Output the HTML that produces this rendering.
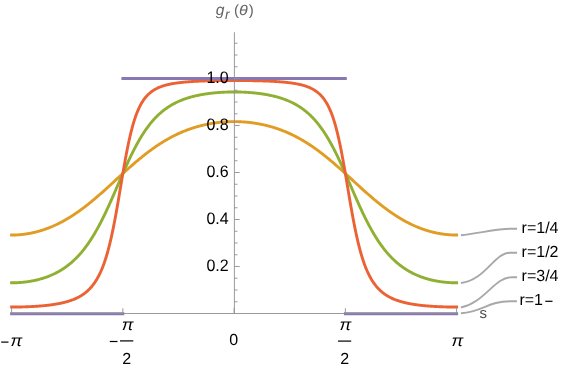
<!DOCTYPE html>
<html><head><meta charset="utf-8"><title>plot</title><style>html,body{margin:0;padding:0;background:#fff}body{width:581px;height:367px;overflow:hidden;position:relative;font-family:"Liberation Sans",sans-serif}</style></head><body>
<svg width="581" height="367" viewBox="0 0 581 367" style="position:absolute;left:0;top:0;will-change:transform">
<rect width="581" height="367" fill="#fff"/>
<path d="M11.60,235.04 L12.16,235.04 L12.71,235.04 L13.27,235.03 L13.82,235.02 L14.38,235.00 L14.94,234.98 L15.49,234.96 L16.05,234.94 L16.61,234.91 L17.16,234.88 L17.72,234.85 L18.28,234.81 L18.83,234.77 L19.39,234.73 L19.94,234.69 L20.50,234.64 L21.06,234.58 L21.61,234.53 L22.17,234.47 L22.73,234.41 L23.28,234.34 L23.84,234.28 L24.39,234.20 L24.95,234.13 L25.51,234.05 L26.06,233.97 L26.62,233.89 L27.18,233.80 L27.73,233.71 L28.29,233.62 L28.84,233.52 L29.40,233.42 L29.96,233.31 L30.51,233.21 L31.07,233.10 L31.63,232.98 L32.18,232.87 L32.74,232.75 L33.29,232.63 L33.85,232.50 L34.41,232.37 L34.96,232.24 L35.52,232.10 L36.07,231.96 L36.63,231.82 L37.19,231.67 L37.74,231.53 L38.30,231.37 L38.86,231.22 L39.41,231.06 L39.97,230.90 L40.53,230.73 L41.08,230.56 L41.64,230.39 L42.19,230.21 L42.75,230.04 L43.31,229.85 L43.86,229.67 L44.42,229.48 L44.98,229.29 L45.53,229.09 L46.09,228.89 L46.64,228.69 L47.20,228.49 L47.76,228.28 L48.31,228.06 L48.87,227.85 L49.43,227.63 L49.98,227.41 L50.54,227.18 L51.09,226.95 L51.65,226.72 L52.21,226.48 L52.76,226.25 L53.32,226.00 L53.88,225.76 L54.43,225.51 L54.99,225.25 L55.54,225.00 L56.10,224.74 L56.66,224.48 L57.21,224.21 L57.77,223.94 L58.32,223.67 L58.88,223.39 L59.44,223.11 L59.99,222.83 L60.55,222.54 L61.11,222.25 L61.66,221.96 L62.22,221.66 L62.78,221.36 L63.33,221.06 L63.89,220.75 L64.44,220.44 L65.00,220.13 L65.56,219.81 L66.11,219.49 L66.67,219.16 L67.23,218.84 L67.78,218.51 L68.34,218.17 L68.89,217.84 L69.45,217.50 L70.01,217.15 L70.56,216.81 L71.12,216.46 L71.68,216.10 L72.23,215.75 L72.79,215.39 L73.34,215.02 L73.90,214.66 L74.46,214.29 L75.01,213.92 L75.57,213.54 L76.13,213.16 L76.68,212.78 L77.24,212.39 L77.79,212.01 L78.35,211.61 L78.91,211.22 L79.46,210.82 L80.02,210.42 L80.57,210.02 L81.13,209.61 L81.69,209.20 L82.24,208.79 L82.80,208.38 L83.36,207.96 L83.91,207.54 L84.47,207.12 L85.03,206.69 L85.58,206.26 L86.14,205.83 L86.69,205.40 L87.25,204.96 L87.81,204.52 L88.36,204.08 L88.92,203.63 L89.48,203.19 L90.03,202.74 L90.59,202.28 L91.14,201.83 L91.70,201.37 L92.26,200.91 L92.81,200.45 L93.37,199.99 L93.93,199.52 L94.48,199.05 L95.04,198.58 L95.59,198.11 L96.15,197.64 L96.71,197.16 L97.26,196.68 L97.82,196.20 L98.38,195.72 L98.93,195.24 L99.49,194.75 L100.04,194.27 L100.60,193.78 L101.16,193.29 L101.71,192.80 L102.27,192.30 L102.83,191.81 L103.38,191.31 L103.94,190.82 L104.49,190.32 L105.05,189.82 L105.61,189.32 L106.16,188.81 L106.72,188.31 L107.28,187.81 L107.83,187.30 L108.39,186.80 L108.94,186.29 L109.50,185.78 L110.06,185.27 L110.61,184.77 L111.17,184.26 L111.73,183.75 L112.28,183.24 L112.84,182.73 L113.39,182.21 L113.95,181.70 L114.51,181.19 L115.06,180.68 L115.62,180.17 L116.18,179.66 L116.73,179.15 L117.29,178.63 L117.84,178.12 L118.40,177.61 L118.96,177.10 L119.51,176.59 L120.07,176.08 L120.63,175.57 L121.18,175.06 L121.74,174.55 L122.29,174.04 L122.85,173.54 L123.41,173.03 L123.96,172.53 L124.52,172.02 L125.08,171.52 L125.63,171.01 L126.19,170.51 L126.74,170.01 L127.30,169.51 L127.86,169.01 L128.41,168.52 L128.97,168.02 L129.53,167.53 L130.08,167.03 L130.64,166.54 L131.19,166.05 L131.75,165.56 L132.31,165.08 L132.86,164.59 L133.42,164.11 L133.98,163.63 L134.53,163.15 L135.09,162.67 L135.64,162.20 L136.20,161.72 L136.76,161.25 L137.31,160.78 L137.87,160.31 L138.43,159.85 L138.98,159.38 L139.54,158.92 L140.09,158.46 L140.65,158.01 L141.21,157.55 L141.76,157.10 L142.32,156.65 L142.88,156.20 L143.43,155.76 L143.99,155.32 L144.54,154.88 L145.10,154.44 L145.66,154.01 L146.21,153.58 L146.77,153.15 L147.33,152.72 L147.88,152.30 L148.44,151.88 L148.99,151.46 L149.55,151.04 L150.11,150.63 L150.66,150.22 L151.22,149.82 L151.78,149.41 L152.33,149.01 L152.89,148.61 L153.44,148.22 L154.00,147.83 L154.56,147.44 L155.11,147.05 L155.67,146.67 L156.23,146.29 L156.78,145.91 L157.34,145.54 L157.89,145.17 L158.45,144.80 L159.01,144.43 L159.56,144.07 L160.12,143.71 L160.68,143.36 L161.23,143.00 L161.79,142.65 L162.34,142.31 L162.90,141.97 L163.46,141.63 L164.01,141.29 L164.57,140.95 L165.13,140.62 L165.68,140.30 L166.24,139.97 L166.79,139.65 L167.35,139.33 L167.91,139.02 L168.46,138.71 L169.02,138.40 L169.58,138.09 L170.13,137.79 L170.69,137.49 L171.24,137.19 L171.80,136.90 L172.36,136.61 L172.91,136.32 L173.47,136.04 L174.03,135.76 L174.58,135.48 L175.14,135.21 L175.69,134.94 L176.25,134.67 L176.81,134.40 L177.36,134.14 L177.92,133.88 L178.48,133.62 L179.03,133.37 L179.59,133.12 L180.14,132.87 L180.70,132.63 L181.26,132.39 L181.81,132.15 L182.37,131.92 L182.93,131.68 L183.48,131.45 L184.04,131.23 L184.59,131.00 L185.15,130.78 L185.71,130.57 L186.26,130.35 L186.82,130.14 L187.38,129.93 L187.93,129.73 L188.49,129.52 L189.04,129.32 L189.60,129.12 L190.16,128.93 L190.71,128.74 L191.27,128.55 L191.83,128.36 L192.38,128.18 L192.94,128.00 L193.49,127.82 L194.05,127.65 L194.61,127.47 L195.16,127.30 L195.72,127.14 L196.28,126.97 L196.83,126.81 L197.39,126.65 L197.94,126.50 L198.50,126.34 L199.06,126.19 L199.61,126.04 L200.17,125.90 L200.73,125.75 L201.28,125.61 L201.84,125.48 L202.39,125.34 L202.95,125.21 L203.51,125.08 L204.06,124.95 L204.62,124.82 L205.18,124.70 L205.73,124.58 L206.29,124.46 L206.84,124.35 L207.40,124.24 L207.96,124.13 L208.51,124.02 L209.07,123.91 L209.63,123.81 L210.18,123.71 L210.74,123.61 L211.29,123.52 L211.85,123.42 L212.41,123.33 L212.96,123.24 L213.52,123.16 L214.08,123.07 L214.63,122.99 L215.19,122.91 L215.74,122.84 L216.30,122.76 L216.86,122.69 L217.41,122.62 L217.97,122.56 L218.53,122.49 L219.08,122.43 L219.64,122.37 L220.19,122.31 L220.75,122.26 L221.31,122.20 L221.86,122.15 L222.42,122.10 L222.98,122.06 L223.53,122.01 L224.09,121.97 L224.64,121.93 L225.20,121.90 L225.76,121.86 L226.31,121.83 L226.87,121.80 L227.43,121.77 L227.98,121.74 L228.54,121.72 L229.09,121.70 L229.65,121.68 L230.21,121.66 L230.76,121.65 L231.32,121.64 L231.88,121.63 L232.43,121.62 L232.99,121.61 L233.54,121.61 L234.10,121.61 L234.66,121.61 L235.21,121.61 L235.77,121.62 L236.33,121.63 L236.88,121.64 L237.44,121.65 L237.99,121.66 L238.55,121.68 L239.11,121.70 L239.66,121.72 L240.22,121.74 L240.78,121.77 L241.33,121.80 L241.89,121.83 L242.44,121.86 L243.00,121.90 L243.56,121.93 L244.11,121.97 L244.67,122.01 L245.23,122.06 L245.78,122.10 L246.34,122.15 L246.89,122.20 L247.45,122.26 L248.01,122.31 L248.56,122.37 L249.12,122.43 L249.68,122.49 L250.23,122.56 L250.79,122.62 L251.34,122.69 L251.90,122.76 L252.46,122.84 L253.01,122.91 L253.57,122.99 L254.13,123.07 L254.68,123.16 L255.24,123.24 L255.79,123.33 L256.35,123.42 L256.91,123.52 L257.46,123.61 L258.02,123.71 L258.58,123.81 L259.13,123.91 L259.69,124.02 L260.24,124.13 L260.80,124.24 L261.36,124.35 L261.91,124.46 L262.47,124.58 L263.03,124.70 L263.58,124.82 L264.14,124.95 L264.69,125.08 L265.25,125.21 L265.81,125.34 L266.36,125.48 L266.92,125.61 L267.48,125.75 L268.03,125.90 L268.59,126.04 L269.14,126.19 L269.70,126.34 L270.26,126.50 L270.81,126.65 L271.37,126.81 L271.93,126.97 L272.48,127.14 L273.04,127.30 L273.59,127.47 L274.15,127.65 L274.71,127.82 L275.26,128.00 L275.82,128.18 L276.38,128.36 L276.93,128.55 L277.49,128.74 L278.04,128.93 L278.60,129.12 L279.16,129.32 L279.71,129.52 L280.27,129.73 L280.83,129.93 L281.38,130.14 L281.94,130.35 L282.49,130.57 L283.05,130.78 L283.61,131.00 L284.16,131.23 L284.72,131.45 L285.28,131.68 L285.83,131.92 L286.39,132.15 L286.94,132.39 L287.50,132.63 L288.06,132.87 L288.61,133.12 L289.17,133.37 L289.73,133.62 L290.28,133.88 L290.84,134.14 L291.39,134.40 L291.95,134.67 L292.51,134.94 L293.06,135.21 L293.62,135.48 L294.18,135.76 L294.73,136.04 L295.29,136.32 L295.84,136.61 L296.40,136.90 L296.96,137.19 L297.51,137.49 L298.07,137.79 L298.63,138.09 L299.18,138.40 L299.74,138.71 L300.29,139.02 L300.85,139.33 L301.41,139.65 L301.96,139.97 L302.52,140.30 L303.08,140.62 L303.63,140.95 L304.19,141.29 L304.74,141.63 L305.30,141.97 L305.86,142.31 L306.41,142.65 L306.97,143.00 L307.53,143.36 L308.08,143.71 L308.64,144.07 L309.19,144.43 L309.75,144.80 L310.31,145.17 L310.86,145.54 L311.42,145.91 L311.98,146.29 L312.53,146.67 L313.09,147.05 L313.64,147.44 L314.20,147.83 L314.76,148.22 L315.31,148.61 L315.87,149.01 L316.43,149.41 L316.98,149.82 L317.54,150.22 L318.09,150.63 L318.65,151.04 L319.21,151.46 L319.76,151.88 L320.32,152.30 L320.88,152.72 L321.43,153.15 L321.99,153.58 L322.54,154.01 L323.10,154.44 L323.66,154.88 L324.21,155.32 L324.77,155.76 L325.33,156.20 L325.88,156.65 L326.44,157.10 L326.99,157.55 L327.55,158.01 L328.11,158.46 L328.66,158.92 L329.22,159.38 L329.78,159.85 L330.33,160.31 L330.89,160.78 L331.44,161.25 L332.00,161.72 L332.56,162.20 L333.11,162.67 L333.67,163.15 L334.23,163.63 L334.78,164.11 L335.34,164.59 L335.89,165.08 L336.45,165.56 L337.01,166.05 L337.56,166.54 L338.12,167.03 L338.68,167.53 L339.23,168.02 L339.79,168.52 L340.34,169.01 L340.90,169.51 L341.46,170.01 L342.01,170.51 L342.57,171.01 L343.13,171.52 L343.68,172.02 L344.24,172.53 L344.79,173.03 L345.35,173.54 L345.91,174.04 L346.46,174.55 L347.02,175.06 L347.58,175.57 L348.13,176.08 L348.69,176.59 L349.24,177.10 L349.80,177.61 L350.36,178.12 L350.91,178.63 L351.47,179.15 L352.03,179.66 L352.58,180.17 L353.14,180.68 L353.69,181.19 L354.25,181.70 L354.81,182.21 L355.36,182.73 L355.92,183.24 L356.48,183.75 L357.03,184.26 L357.59,184.77 L358.14,185.27 L358.70,185.78 L359.26,186.29 L359.81,186.80 L360.37,187.30 L360.93,187.81 L361.48,188.31 L362.04,188.81 L362.59,189.32 L363.15,189.82 L363.71,190.32 L364.26,190.82 L364.82,191.31 L365.38,191.81 L365.93,192.30 L366.49,192.80 L367.04,193.29 L367.60,193.78 L368.16,194.27 L368.71,194.75 L369.27,195.24 L369.83,195.72 L370.38,196.20 L370.94,196.68 L371.49,197.16 L372.05,197.64 L372.61,198.11 L373.16,198.58 L373.72,199.05 L374.28,199.52 L374.83,199.99 L375.39,200.45 L375.94,200.91 L376.50,201.37 L377.06,201.83 L377.61,202.28 L378.17,202.74 L378.73,203.19 L379.28,203.63 L379.84,204.08 L380.39,204.52 L380.95,204.96 L381.51,205.40 L382.06,205.83 L382.62,206.26 L383.18,206.69 L383.73,207.12 L384.29,207.54 L384.84,207.96 L385.40,208.38 L385.96,208.79 L386.51,209.20 L387.07,209.61 L387.63,210.02 L388.18,210.42 L388.74,210.82 L389.29,211.22 L389.85,211.61 L390.41,212.01 L390.96,212.39 L391.52,212.78 L392.08,213.16 L392.63,213.54 L393.19,213.92 L393.74,214.29 L394.30,214.66 L394.86,215.02 L395.41,215.39 L395.97,215.75 L396.53,216.10 L397.08,216.46 L397.64,216.81 L398.19,217.15 L398.75,217.50 L399.31,217.84 L399.86,218.17 L400.42,218.51 L400.98,218.84 L401.53,219.16 L402.09,219.49 L402.64,219.81 L403.20,220.13 L403.76,220.44 L404.31,220.75 L404.87,221.06 L405.43,221.36 L405.98,221.66 L406.54,221.96 L407.09,222.25 L407.65,222.54 L408.21,222.83 L408.76,223.11 L409.32,223.39 L409.88,223.67 L410.43,223.94 L410.99,224.21 L411.54,224.48 L412.10,224.74 L412.66,225.00 L413.21,225.25 L413.77,225.51 L414.33,225.76 L414.88,226.00 L415.44,226.25 L415.99,226.48 L416.55,226.72 L417.11,226.95 L417.66,227.18 L418.22,227.41 L418.78,227.63 L419.33,227.85 L419.89,228.06 L420.44,228.28 L421.00,228.49 L421.56,228.69 L422.11,228.89 L422.67,229.09 L423.23,229.29 L423.78,229.48 L424.34,229.67 L424.89,229.85 L425.45,230.04 L426.01,230.21 L426.56,230.39 L427.12,230.56 L427.68,230.73 L428.23,230.90 L428.79,231.06 L429.34,231.22 L429.90,231.37 L430.46,231.53 L431.01,231.67 L431.57,231.82 L432.13,231.96 L432.68,232.10 L433.24,232.24 L433.79,232.37 L434.35,232.50 L434.91,232.63 L435.46,232.75 L436.02,232.87 L436.58,232.98 L437.13,233.10 L437.69,233.21 L438.24,233.31 L438.80,233.42 L439.36,233.52 L439.91,233.62 L440.47,233.71 L441.03,233.80 L441.58,233.89 L442.14,233.97 L442.69,234.05 L443.25,234.13 L443.81,234.20 L444.36,234.28 L444.92,234.34 L445.48,234.41 L446.03,234.47 L446.59,234.53 L447.14,234.58 L447.70,234.64 L448.26,234.69 L448.81,234.73 L449.37,234.77 L449.93,234.81 L450.48,234.85 L451.04,234.88 L451.59,234.91 L452.15,234.94 L452.71,234.96 L453.26,234.98 L453.82,235.00 L454.38,235.02 L454.93,235.03 L455.49,235.04 L456.04,235.04 L456.60,235.04" fill="none" stroke="#E19C24" stroke-width="2.9" stroke-linecap="square" stroke-linejoin="round"/>
<path d="M11.60,282.82 L12.16,282.82 L12.71,282.81 L13.27,282.81 L13.82,282.80 L14.38,282.78 L14.94,282.77 L15.49,282.75 L16.05,282.73 L16.61,282.71 L17.16,282.68 L17.72,282.66 L18.28,282.63 L18.83,282.59 L19.39,282.56 L19.94,282.52 L20.50,282.48 L21.06,282.43 L21.61,282.38 L22.17,282.33 L22.73,282.28 L23.28,282.23 L23.84,282.17 L24.39,282.11 L24.95,282.04 L25.51,281.97 L26.06,281.90 L26.62,281.83 L27.18,281.76 L27.73,281.68 L28.29,281.60 L28.84,281.51 L29.40,281.42 L29.96,281.33 L30.51,281.24 L31.07,281.14 L31.63,281.04 L32.18,280.94 L32.74,280.83 L33.29,280.72 L33.85,280.61 L34.41,280.49 L34.96,280.37 L35.52,280.25 L36.07,280.12 L36.63,279.99 L37.19,279.86 L37.74,279.72 L38.30,279.58 L38.86,279.44 L39.41,279.29 L39.97,279.14 L40.53,278.98 L41.08,278.83 L41.64,278.66 L42.19,278.50 L42.75,278.33 L43.31,278.15 L43.86,277.97 L44.42,277.79 L44.98,277.60 L45.53,277.41 L46.09,277.22 L46.64,277.02 L47.20,276.81 L47.76,276.61 L48.31,276.39 L48.87,276.18 L49.43,275.95 L49.98,275.73 L50.54,275.49 L51.09,275.26 L51.65,275.02 L52.21,274.77 L52.76,274.52 L53.32,274.26 L53.88,274.00 L54.43,273.73 L54.99,273.46 L55.54,273.18 L56.10,272.90 L56.66,272.61 L57.21,272.32 L57.77,272.02 L58.32,271.71 L58.88,271.40 L59.44,271.08 L59.99,270.75 L60.55,270.42 L61.11,270.09 L61.66,269.74 L62.22,269.39 L62.78,269.03 L63.33,268.67 L63.89,268.30 L64.44,267.92 L65.00,267.54 L65.56,267.14 L66.11,266.75 L66.67,266.34 L67.23,265.92 L67.78,265.50 L68.34,265.07 L68.89,264.63 L69.45,264.19 L70.01,263.73 L70.56,263.27 L71.12,262.80 L71.68,262.32 L72.23,261.83 L72.79,261.33 L73.34,260.83 L73.90,260.31 L74.46,259.79 L75.01,259.26 L75.57,258.71 L76.13,258.16 L76.68,257.60 L77.24,257.03 L77.79,256.44 L78.35,255.85 L78.91,255.25 L79.46,254.63 L80.02,254.01 L80.57,253.38 L81.13,252.73 L81.69,252.08 L82.24,251.41 L82.80,250.73 L83.36,250.04 L83.91,249.34 L84.47,248.63 L85.03,247.90 L85.58,247.17 L86.14,246.42 L86.69,245.66 L87.25,244.89 L87.81,244.11 L88.36,243.31 L88.92,242.51 L89.48,241.69 L90.03,240.85 L90.59,240.01 L91.14,239.15 L91.70,238.28 L92.26,237.40 L92.81,236.50 L93.37,235.60 L93.93,234.68 L94.48,233.74 L95.04,232.80 L95.59,231.84 L96.15,230.87 L96.71,229.88 L97.26,228.89 L97.82,227.88 L98.38,226.86 L98.93,225.83 L99.49,224.78 L100.04,223.73 L100.60,222.66 L101.16,221.58 L101.71,220.48 L102.27,219.38 L102.83,218.27 L103.38,217.14 L103.94,216.00 L104.49,214.86 L105.05,213.70 L105.61,212.53 L106.16,211.36 L106.72,210.17 L107.28,208.98 L107.83,207.77 L108.39,206.56 L108.94,205.34 L109.50,204.11 L110.06,202.87 L110.61,201.63 L111.17,200.38 L111.73,199.13 L112.28,197.87 L112.84,196.60 L113.39,195.33 L113.95,194.06 L114.51,192.78 L115.06,191.50 L115.62,190.22 L116.18,188.93 L116.73,187.65 L117.29,186.36 L117.84,185.07 L118.40,183.78 L118.96,182.49 L119.51,181.21 L120.07,179.92 L120.63,178.64 L121.18,177.36 L121.74,176.08 L122.29,174.81 L122.85,173.54 L123.41,172.27 L123.96,171.01 L124.52,169.76 L125.08,168.51 L125.63,167.27 L126.19,166.04 L126.74,164.81 L127.30,163.59 L127.86,162.39 L128.41,161.18 L128.97,159.99 L129.53,158.81 L130.08,157.64 L130.64,156.48 L131.19,155.33 L131.75,154.19 L132.31,153.06 L132.86,151.95 L133.42,150.84 L133.98,149.75 L134.53,148.67 L135.09,147.60 L135.64,146.55 L136.20,145.51 L136.76,144.48 L137.31,143.47 L137.87,142.46 L138.43,141.48 L138.98,140.50 L139.54,139.54 L140.09,138.59 L140.65,137.66 L141.21,136.74 L141.76,135.84 L142.32,134.95 L142.88,134.07 L143.43,133.20 L143.99,132.35 L144.54,131.52 L145.10,130.70 L145.66,129.89 L146.21,129.09 L146.77,128.31 L147.33,127.54 L147.88,126.79 L148.44,126.05 L148.99,125.32 L149.55,124.60 L150.11,123.90 L150.66,123.21 L151.22,122.53 L151.78,121.87 L152.33,121.21 L152.89,120.57 L153.44,119.95 L154.00,119.33 L154.56,118.73 L155.11,118.13 L155.67,117.55 L156.23,116.98 L156.78,116.42 L157.34,115.87 L157.89,115.33 L158.45,114.81 L159.01,114.29 L159.56,113.78 L160.12,113.29 L160.68,112.80 L161.23,112.32 L161.79,111.85 L162.34,111.40 L162.90,110.95 L163.46,110.51 L164.01,110.07 L164.57,109.65 L165.13,109.24 L165.68,108.83 L166.24,108.44 L166.79,108.05 L167.35,107.66 L167.91,107.29 L168.46,106.93 L169.02,106.57 L169.58,106.22 L170.13,105.87 L170.69,105.53 L171.24,105.20 L171.80,104.88 L172.36,104.57 L172.91,104.25 L173.47,103.95 L174.03,103.65 L174.58,103.36 L175.14,103.08 L175.69,102.80 L176.25,102.52 L176.81,102.26 L177.36,101.99 L177.92,101.74 L178.48,101.49 L179.03,101.24 L179.59,101.00 L180.14,100.76 L180.70,100.53 L181.26,100.30 L181.81,100.08 L182.37,99.86 L182.93,99.65 L183.48,99.44 L184.04,99.24 L184.59,99.04 L185.15,98.84 L185.71,98.65 L186.26,98.47 L186.82,98.28 L187.38,98.10 L187.93,97.93 L188.49,97.75 L189.04,97.59 L189.60,97.42 L190.16,97.26 L190.71,97.10 L191.27,96.95 L191.83,96.80 L192.38,96.65 L192.94,96.50 L193.49,96.36 L194.05,96.22 L194.61,96.09 L195.16,95.96 L195.72,95.83 L196.28,95.70 L196.83,95.58 L197.39,95.46 L197.94,95.34 L198.50,95.22 L199.06,95.11 L199.61,95.00 L200.17,94.89 L200.73,94.78 L201.28,94.68 L201.84,94.58 L202.39,94.48 L202.95,94.39 L203.51,94.29 L204.06,94.20 L204.62,94.11 L205.18,94.03 L205.73,93.94 L206.29,93.86 L206.84,93.78 L207.40,93.70 L207.96,93.62 L208.51,93.55 L209.07,93.48 L209.63,93.41 L210.18,93.34 L210.74,93.27 L211.29,93.21 L211.85,93.14 L212.41,93.08 L212.96,93.02 L213.52,92.96 L214.08,92.91 L214.63,92.85 L215.19,92.80 L215.74,92.75 L216.30,92.70 L216.86,92.66 L217.41,92.61 L217.97,92.57 L218.53,92.52 L219.08,92.48 L219.64,92.45 L220.19,92.41 L220.75,92.37 L221.31,92.34 L221.86,92.30 L222.42,92.27 L222.98,92.24 L223.53,92.22 L224.09,92.19 L224.64,92.16 L225.20,92.14 L225.76,92.12 L226.31,92.10 L226.87,92.08 L227.43,92.06 L227.98,92.04 L228.54,92.03 L229.09,92.02 L229.65,92.00 L230.21,91.99 L230.76,91.98 L231.32,91.98 L231.88,91.97 L232.43,91.96 L232.99,91.96 L233.54,91.96 L234.10,91.96 L234.66,91.96 L235.21,91.96 L235.77,91.96 L236.33,91.97 L236.88,91.98 L237.44,91.98 L237.99,91.99 L238.55,92.00 L239.11,92.02 L239.66,92.03 L240.22,92.04 L240.78,92.06 L241.33,92.08 L241.89,92.10 L242.44,92.12 L243.00,92.14 L243.56,92.16 L244.11,92.19 L244.67,92.22 L245.23,92.24 L245.78,92.27 L246.34,92.30 L246.89,92.34 L247.45,92.37 L248.01,92.41 L248.56,92.45 L249.12,92.48 L249.68,92.52 L250.23,92.57 L250.79,92.61 L251.34,92.66 L251.90,92.70 L252.46,92.75 L253.01,92.80 L253.57,92.85 L254.13,92.91 L254.68,92.96 L255.24,93.02 L255.79,93.08 L256.35,93.14 L256.91,93.21 L257.46,93.27 L258.02,93.34 L258.58,93.41 L259.13,93.48 L259.69,93.55 L260.24,93.62 L260.80,93.70 L261.36,93.78 L261.91,93.86 L262.47,93.94 L263.03,94.03 L263.58,94.11 L264.14,94.20 L264.69,94.29 L265.25,94.39 L265.81,94.48 L266.36,94.58 L266.92,94.68 L267.48,94.78 L268.03,94.89 L268.59,95.00 L269.14,95.11 L269.70,95.22 L270.26,95.34 L270.81,95.46 L271.37,95.58 L271.93,95.70 L272.48,95.83 L273.04,95.96 L273.59,96.09 L274.15,96.22 L274.71,96.36 L275.26,96.50 L275.82,96.65 L276.38,96.80 L276.93,96.95 L277.49,97.10 L278.04,97.26 L278.60,97.42 L279.16,97.59 L279.71,97.75 L280.27,97.93 L280.83,98.10 L281.38,98.28 L281.94,98.47 L282.49,98.65 L283.05,98.84 L283.61,99.04 L284.16,99.24 L284.72,99.44 L285.28,99.65 L285.83,99.86 L286.39,100.08 L286.94,100.30 L287.50,100.53 L288.06,100.76 L288.61,101.00 L289.17,101.24 L289.73,101.49 L290.28,101.74 L290.84,101.99 L291.39,102.26 L291.95,102.52 L292.51,102.80 L293.06,103.08 L293.62,103.36 L294.18,103.65 L294.73,103.95 L295.29,104.25 L295.84,104.57 L296.40,104.88 L296.96,105.20 L297.51,105.53 L298.07,105.87 L298.63,106.22 L299.18,106.57 L299.74,106.93 L300.29,107.29 L300.85,107.66 L301.41,108.05 L301.96,108.44 L302.52,108.83 L303.08,109.24 L303.63,109.65 L304.19,110.07 L304.74,110.51 L305.30,110.95 L305.86,111.40 L306.41,111.85 L306.97,112.32 L307.53,112.80 L308.08,113.29 L308.64,113.78 L309.19,114.29 L309.75,114.81 L310.31,115.33 L310.86,115.87 L311.42,116.42 L311.98,116.98 L312.53,117.55 L313.09,118.13 L313.64,118.73 L314.20,119.33 L314.76,119.95 L315.31,120.57 L315.87,121.21 L316.43,121.87 L316.98,122.53 L317.54,123.21 L318.09,123.90 L318.65,124.60 L319.21,125.32 L319.76,126.05 L320.32,126.79 L320.88,127.54 L321.43,128.31 L321.99,129.09 L322.54,129.89 L323.10,130.70 L323.66,131.52 L324.21,132.35 L324.77,133.20 L325.33,134.07 L325.88,134.95 L326.44,135.84 L326.99,136.74 L327.55,137.66 L328.11,138.59 L328.66,139.54 L329.22,140.50 L329.78,141.48 L330.33,142.46 L330.89,143.47 L331.44,144.48 L332.00,145.51 L332.56,146.55 L333.11,147.60 L333.67,148.67 L334.23,149.75 L334.78,150.84 L335.34,151.95 L335.89,153.06 L336.45,154.19 L337.01,155.33 L337.56,156.48 L338.12,157.64 L338.68,158.81 L339.23,159.99 L339.79,161.18 L340.34,162.39 L340.90,163.59 L341.46,164.81 L342.01,166.04 L342.57,167.27 L343.13,168.51 L343.68,169.76 L344.24,171.01 L344.79,172.27 L345.35,173.54 L345.91,174.81 L346.46,176.08 L347.02,177.36 L347.58,178.64 L348.13,179.92 L348.69,181.21 L349.24,182.49 L349.80,183.78 L350.36,185.07 L350.91,186.36 L351.47,187.65 L352.03,188.93 L352.58,190.22 L353.14,191.50 L353.69,192.78 L354.25,194.06 L354.81,195.33 L355.36,196.60 L355.92,197.87 L356.48,199.13 L357.03,200.38 L357.59,201.63 L358.14,202.87 L358.70,204.11 L359.26,205.34 L359.81,206.56 L360.37,207.77 L360.93,208.98 L361.48,210.17 L362.04,211.36 L362.59,212.53 L363.15,213.70 L363.71,214.86 L364.26,216.00 L364.82,217.14 L365.38,218.27 L365.93,219.38 L366.49,220.48 L367.04,221.58 L367.60,222.66 L368.16,223.73 L368.71,224.78 L369.27,225.83 L369.83,226.86 L370.38,227.88 L370.94,228.89 L371.49,229.88 L372.05,230.87 L372.61,231.84 L373.16,232.80 L373.72,233.74 L374.28,234.68 L374.83,235.60 L375.39,236.50 L375.94,237.40 L376.50,238.28 L377.06,239.15 L377.61,240.01 L378.17,240.85 L378.73,241.69 L379.28,242.51 L379.84,243.31 L380.39,244.11 L380.95,244.89 L381.51,245.66 L382.06,246.42 L382.62,247.17 L383.18,247.90 L383.73,248.63 L384.29,249.34 L384.84,250.04 L385.40,250.73 L385.96,251.41 L386.51,252.08 L387.07,252.73 L387.63,253.38 L388.18,254.01 L388.74,254.63 L389.29,255.25 L389.85,255.85 L390.41,256.44 L390.96,257.03 L391.52,257.60 L392.08,258.16 L392.63,258.71 L393.19,259.26 L393.74,259.79 L394.30,260.31 L394.86,260.83 L395.41,261.33 L395.97,261.83 L396.53,262.32 L397.08,262.80 L397.64,263.27 L398.19,263.73 L398.75,264.19 L399.31,264.63 L399.86,265.07 L400.42,265.50 L400.98,265.92 L401.53,266.34 L402.09,266.75 L402.64,267.14 L403.20,267.54 L403.76,267.92 L404.31,268.30 L404.87,268.67 L405.43,269.03 L405.98,269.39 L406.54,269.74 L407.09,270.09 L407.65,270.42 L408.21,270.75 L408.76,271.08 L409.32,271.40 L409.88,271.71 L410.43,272.02 L410.99,272.32 L411.54,272.61 L412.10,272.90 L412.66,273.18 L413.21,273.46 L413.77,273.73 L414.33,274.00 L414.88,274.26 L415.44,274.52 L415.99,274.77 L416.55,275.02 L417.11,275.26 L417.66,275.49 L418.22,275.73 L418.78,275.95 L419.33,276.18 L419.89,276.39 L420.44,276.61 L421.00,276.81 L421.56,277.02 L422.11,277.22 L422.67,277.41 L423.23,277.60 L423.78,277.79 L424.34,277.97 L424.89,278.15 L425.45,278.33 L426.01,278.50 L426.56,278.66 L427.12,278.83 L427.68,278.98 L428.23,279.14 L428.79,279.29 L429.34,279.44 L429.90,279.58 L430.46,279.72 L431.01,279.86 L431.57,279.99 L432.13,280.12 L432.68,280.25 L433.24,280.37 L433.79,280.49 L434.35,280.61 L434.91,280.72 L435.46,280.83 L436.02,280.94 L436.58,281.04 L437.13,281.14 L437.69,281.24 L438.24,281.33 L438.80,281.42 L439.36,281.51 L439.91,281.60 L440.47,281.68 L441.03,281.76 L441.58,281.83 L442.14,281.90 L442.69,281.97 L443.25,282.04 L443.81,282.11 L444.36,282.17 L444.92,282.23 L445.48,282.28 L446.03,282.33 L446.59,282.38 L447.14,282.43 L447.70,282.48 L448.26,282.52 L448.81,282.56 L449.37,282.59 L449.93,282.63 L450.48,282.66 L451.04,282.68 L451.59,282.71 L452.15,282.73 L452.71,282.75 L453.26,282.77 L453.82,282.78 L454.38,282.80 L454.93,282.81 L455.49,282.81 L456.04,282.82 L456.60,282.82" fill="none" stroke="#8FB032" stroke-width="2.9" stroke-linecap="square" stroke-linejoin="round"/>
<path d="M11.60,307.05 L12.16,307.05 L12.71,307.05 L13.27,307.05 L13.82,307.04 L14.38,307.04 L14.94,307.04 L15.49,307.03 L16.05,307.03 L16.61,307.02 L17.16,307.01 L17.72,307.01 L18.28,307.00 L18.83,306.99 L19.39,306.98 L19.94,306.97 L20.50,306.96 L21.06,306.94 L21.61,306.93 L22.17,306.92 L22.73,306.90 L23.28,306.89 L23.84,306.87 L24.39,306.86 L24.95,306.84 L25.51,306.82 L26.06,306.80 L26.62,306.78 L27.18,306.76 L27.73,306.74 L28.29,306.72 L28.84,306.69 L29.40,306.67 L29.96,306.64 L30.51,306.62 L31.07,306.59 L31.63,306.56 L32.18,306.53 L32.74,306.50 L33.29,306.47 L33.85,306.44 L34.41,306.41 L34.96,306.37 L35.52,306.34 L36.07,306.30 L36.63,306.27 L37.19,306.23 L37.74,306.19 L38.30,306.15 L38.86,306.11 L39.41,306.06 L39.97,306.02 L40.53,305.98 L41.08,305.93 L41.64,305.88 L42.19,305.83 L42.75,305.78 L43.31,305.73 L43.86,305.68 L44.42,305.62 L44.98,305.57 L45.53,305.51 L46.09,305.45 L46.64,305.39 L47.20,305.33 L47.76,305.27 L48.31,305.20 L48.87,305.13 L49.43,305.07 L49.98,305.00 L50.54,304.92 L51.09,304.85 L51.65,304.77 L52.21,304.70 L52.76,304.62 L53.32,304.53 L53.88,304.45 L54.43,304.36 L54.99,304.27 L55.54,304.18 L56.10,304.09 L56.66,303.99 L57.21,303.90 L57.77,303.80 L58.32,303.69 L58.88,303.59 L59.44,303.48 L59.99,303.36 L60.55,303.25 L61.11,303.13 L61.66,303.01 L62.22,302.89 L62.78,302.76 L63.33,302.63 L63.89,302.49 L64.44,302.35 L65.00,302.21 L65.56,302.07 L66.11,301.92 L66.67,301.76 L67.23,301.60 L67.78,301.44 L68.34,301.27 L68.89,301.10 L69.45,300.92 L70.01,300.74 L70.56,300.55 L71.12,300.36 L71.68,300.16 L72.23,299.95 L72.79,299.74 L73.34,299.53 L73.90,299.30 L74.46,299.07 L75.01,298.83 L75.57,298.59 L76.13,298.34 L76.68,298.08 L77.24,297.81 L77.79,297.53 L78.35,297.24 L78.91,296.95 L79.46,296.65 L80.02,296.33 L80.57,296.01 L81.13,295.67 L81.69,295.33 L82.24,294.97 L82.80,294.60 L83.36,294.22 L83.91,293.82 L84.47,293.41 L85.03,292.99 L85.58,292.55 L86.14,292.10 L86.69,291.63 L87.25,291.14 L87.81,290.64 L88.36,290.12 L88.92,289.58 L89.48,289.02 L90.03,288.44 L90.59,287.84 L91.14,287.21 L91.70,286.56 L92.26,285.89 L92.81,285.19 L93.37,284.47 L93.93,283.71 L94.48,282.93 L95.04,282.12 L95.59,281.28 L96.15,280.40 L96.71,279.49 L97.26,278.54 L97.82,277.55 L98.38,276.53 L98.93,275.46 L99.49,274.35 L100.04,273.20 L100.60,272.00 L101.16,270.75 L101.71,269.45 L102.27,268.10 L102.83,266.69 L103.38,265.23 L103.94,263.71 L104.49,262.13 L105.05,260.49 L105.61,258.78 L106.16,257.01 L106.72,255.17 L107.28,253.26 L107.83,251.28 L108.39,249.23 L108.94,247.10 L109.50,244.90 L110.06,242.62 L110.61,240.27 L111.17,237.84 L111.73,235.33 L112.28,232.75 L112.84,230.09 L113.39,227.36 L113.95,224.55 L114.51,221.68 L115.06,218.74 L115.62,215.74 L116.18,212.67 L116.73,209.56 L117.29,206.39 L117.84,203.19 L118.40,199.94 L118.96,196.67 L119.51,193.37 L120.07,190.06 L120.63,186.74 L121.18,183.42 L121.74,180.11 L122.29,176.81 L122.85,173.54 L123.41,170.30 L123.96,167.09 L124.52,163.94 L125.08,160.83 L125.63,157.79 L126.19,154.80 L126.74,151.89 L127.30,149.05 L127.86,146.29 L128.41,143.60 L128.97,141.00 L129.53,138.48 L130.08,136.05 L130.64,133.70 L131.19,131.44 L131.75,129.27 L132.31,127.18 L132.86,125.17 L133.42,123.25 L133.98,121.40 L134.53,119.64 L135.09,117.95 L135.64,116.34 L136.20,114.80 L136.76,113.33 L137.31,111.93 L137.87,110.59 L138.43,109.31 L138.98,108.09 L139.54,106.93 L140.09,105.83 L140.65,104.77 L141.21,103.77 L141.76,102.81 L142.32,101.90 L142.88,101.03 L143.43,100.20 L143.99,99.41 L144.54,98.66 L145.10,97.94 L145.66,97.25 L146.21,96.60 L146.77,95.98 L147.33,95.38 L147.88,94.81 L148.44,94.27 L148.99,93.75 L149.55,93.26 L150.11,92.78 L150.66,92.33 L151.22,91.90 L151.78,91.48 L152.33,91.09 L152.89,90.71 L153.44,90.34 L154.00,89.99 L154.56,89.66 L155.11,89.34 L155.67,89.03 L156.23,88.74 L156.78,88.46 L157.34,88.19 L157.89,87.93 L158.45,87.68 L159.01,87.43 L159.56,87.20 L160.12,86.98 L160.68,86.77 L161.23,86.56 L161.79,86.36 L162.34,86.17 L162.90,85.99 L163.46,85.81 L164.01,85.64 L164.57,85.48 L165.13,85.32 L165.68,85.17 L166.24,85.02 L166.79,84.88 L167.35,84.74 L167.91,84.61 L168.46,84.48 L169.02,84.36 L169.58,84.24 L170.13,84.12 L170.69,84.01 L171.24,83.90 L171.80,83.80 L172.36,83.69 L172.91,83.60 L173.47,83.50 L174.03,83.41 L174.58,83.32 L175.14,83.23 L175.69,83.15 L176.25,83.07 L176.81,82.99 L177.36,82.92 L177.92,82.84 L178.48,82.77 L179.03,82.70 L179.59,82.63 L180.14,82.57 L180.70,82.50 L181.26,82.44 L181.81,82.38 L182.37,82.33 L182.93,82.27 L183.48,82.21 L184.04,82.16 L184.59,82.11 L185.15,82.06 L185.71,82.01 L186.26,81.96 L186.82,81.92 L187.38,81.87 L187.93,81.83 L188.49,81.79 L189.04,81.75 L189.60,81.71 L190.16,81.67 L190.71,81.63 L191.27,81.59 L191.83,81.56 L192.38,81.52 L192.94,81.49 L193.49,81.45 L194.05,81.42 L194.61,81.39 L195.16,81.36 L195.72,81.33 L196.28,81.30 L196.83,81.27 L197.39,81.25 L197.94,81.22 L198.50,81.19 L199.06,81.17 L199.61,81.14 L200.17,81.12 L200.73,81.10 L201.28,81.08 L201.84,81.05 L202.39,81.03 L202.95,81.01 L203.51,80.99 L204.06,80.97 L204.62,80.95 L205.18,80.93 L205.73,80.92 L206.29,80.90 L206.84,80.88 L207.40,80.87 L207.96,80.85 L208.51,80.83 L209.07,80.82 L209.63,80.80 L210.18,80.79 L210.74,80.78 L211.29,80.76 L211.85,80.75 L212.41,80.74 L212.96,80.72 L213.52,80.71 L214.08,80.70 L214.63,80.69 L215.19,80.68 L215.74,80.67 L216.30,80.66 L216.86,80.65 L217.41,80.64 L217.97,80.63 L218.53,80.62 L219.08,80.62 L219.64,80.61 L220.19,80.60 L220.75,80.59 L221.31,80.59 L221.86,80.58 L222.42,80.57 L222.98,80.57 L223.53,80.56 L224.09,80.56 L224.64,80.55 L225.20,80.55 L225.76,80.54 L226.31,80.54 L226.87,80.54 L227.43,80.53 L227.98,80.53 L228.54,80.53 L229.09,80.52 L229.65,80.52 L230.21,80.52 L230.76,80.52 L231.32,80.51 L231.88,80.51 L232.43,80.51 L232.99,80.51 L233.54,80.51 L234.10,80.51 L234.66,80.51 L235.21,80.51 L235.77,80.51 L236.33,80.51 L236.88,80.51 L237.44,80.52 L237.99,80.52 L238.55,80.52 L239.11,80.52 L239.66,80.53 L240.22,80.53 L240.78,80.53 L241.33,80.54 L241.89,80.54 L242.44,80.54 L243.00,80.55 L243.56,80.55 L244.11,80.56 L244.67,80.56 L245.23,80.57 L245.78,80.57 L246.34,80.58 L246.89,80.59 L247.45,80.59 L248.01,80.60 L248.56,80.61 L249.12,80.62 L249.68,80.62 L250.23,80.63 L250.79,80.64 L251.34,80.65 L251.90,80.66 L252.46,80.67 L253.01,80.68 L253.57,80.69 L254.13,80.70 L254.68,80.71 L255.24,80.72 L255.79,80.74 L256.35,80.75 L256.91,80.76 L257.46,80.78 L258.02,80.79 L258.58,80.80 L259.13,80.82 L259.69,80.83 L260.24,80.85 L260.80,80.87 L261.36,80.88 L261.91,80.90 L262.47,80.92 L263.03,80.93 L263.58,80.95 L264.14,80.97 L264.69,80.99 L265.25,81.01 L265.81,81.03 L266.36,81.05 L266.92,81.08 L267.48,81.10 L268.03,81.12 L268.59,81.14 L269.14,81.17 L269.70,81.19 L270.26,81.22 L270.81,81.25 L271.37,81.27 L271.93,81.30 L272.48,81.33 L273.04,81.36 L273.59,81.39 L274.15,81.42 L274.71,81.45 L275.26,81.49 L275.82,81.52 L276.38,81.56 L276.93,81.59 L277.49,81.63 L278.04,81.67 L278.60,81.71 L279.16,81.75 L279.71,81.79 L280.27,81.83 L280.83,81.87 L281.38,81.92 L281.94,81.96 L282.49,82.01 L283.05,82.06 L283.61,82.11 L284.16,82.16 L284.72,82.21 L285.28,82.27 L285.83,82.33 L286.39,82.38 L286.94,82.44 L287.50,82.50 L288.06,82.57 L288.61,82.63 L289.17,82.70 L289.73,82.77 L290.28,82.84 L290.84,82.92 L291.39,82.99 L291.95,83.07 L292.51,83.15 L293.06,83.23 L293.62,83.32 L294.18,83.41 L294.73,83.50 L295.29,83.60 L295.84,83.69 L296.40,83.80 L296.96,83.90 L297.51,84.01 L298.07,84.12 L298.63,84.24 L299.18,84.36 L299.74,84.48 L300.29,84.61 L300.85,84.74 L301.41,84.88 L301.96,85.02 L302.52,85.17 L303.08,85.32 L303.63,85.48 L304.19,85.64 L304.74,85.81 L305.30,85.99 L305.86,86.17 L306.41,86.36 L306.97,86.56 L307.53,86.77 L308.08,86.98 L308.64,87.20 L309.19,87.43 L309.75,87.68 L310.31,87.93 L310.86,88.19 L311.42,88.46 L311.98,88.74 L312.53,89.03 L313.09,89.34 L313.64,89.66 L314.20,89.99 L314.76,90.34 L315.31,90.71 L315.87,91.09 L316.43,91.48 L316.98,91.90 L317.54,92.33 L318.09,92.78 L318.65,93.26 L319.21,93.75 L319.76,94.27 L320.32,94.81 L320.88,95.38 L321.43,95.98 L321.99,96.60 L322.54,97.25 L323.10,97.94 L323.66,98.66 L324.21,99.41 L324.77,100.20 L325.33,101.03 L325.88,101.90 L326.44,102.81 L326.99,103.77 L327.55,104.77 L328.11,105.83 L328.66,106.93 L329.22,108.09 L329.78,109.31 L330.33,110.59 L330.89,111.93 L331.44,113.33 L332.00,114.80 L332.56,116.34 L333.11,117.95 L333.67,119.64 L334.23,121.40 L334.78,123.25 L335.34,125.17 L335.89,127.18 L336.45,129.27 L337.01,131.44 L337.56,133.70 L338.12,136.05 L338.68,138.48 L339.23,141.00 L339.79,143.60 L340.34,146.29 L340.90,149.05 L341.46,151.89 L342.01,154.80 L342.57,157.79 L343.13,160.83 L343.68,163.94 L344.24,167.09 L344.79,170.30 L345.35,173.54 L345.91,176.81 L346.46,180.11 L347.02,183.42 L347.58,186.74 L348.13,190.06 L348.69,193.37 L349.24,196.67 L349.80,199.94 L350.36,203.19 L350.91,206.39 L351.47,209.56 L352.03,212.67 L352.58,215.74 L353.14,218.74 L353.69,221.68 L354.25,224.55 L354.81,227.36 L355.36,230.09 L355.92,232.75 L356.48,235.33 L357.03,237.84 L357.59,240.27 L358.14,242.62 L358.70,244.90 L359.26,247.10 L359.81,249.23 L360.37,251.28 L360.93,253.26 L361.48,255.17 L362.04,257.01 L362.59,258.78 L363.15,260.49 L363.71,262.13 L364.26,263.71 L364.82,265.23 L365.38,266.69 L365.93,268.10 L366.49,269.45 L367.04,270.75 L367.60,272.00 L368.16,273.20 L368.71,274.35 L369.27,275.46 L369.83,276.53 L370.38,277.55 L370.94,278.54 L371.49,279.49 L372.05,280.40 L372.61,281.28 L373.16,282.12 L373.72,282.93 L374.28,283.71 L374.83,284.47 L375.39,285.19 L375.94,285.89 L376.50,286.56 L377.06,287.21 L377.61,287.84 L378.17,288.44 L378.73,289.02 L379.28,289.58 L379.84,290.12 L380.39,290.64 L380.95,291.14 L381.51,291.63 L382.06,292.10 L382.62,292.55 L383.18,292.99 L383.73,293.41 L384.29,293.82 L384.84,294.22 L385.40,294.60 L385.96,294.97 L386.51,295.33 L387.07,295.67 L387.63,296.01 L388.18,296.33 L388.74,296.65 L389.29,296.95 L389.85,297.24 L390.41,297.53 L390.96,297.81 L391.52,298.08 L392.08,298.34 L392.63,298.59 L393.19,298.83 L393.74,299.07 L394.30,299.30 L394.86,299.53 L395.41,299.74 L395.97,299.95 L396.53,300.16 L397.08,300.36 L397.64,300.55 L398.19,300.74 L398.75,300.92 L399.31,301.10 L399.86,301.27 L400.42,301.44 L400.98,301.60 L401.53,301.76 L402.09,301.92 L402.64,302.07 L403.20,302.21 L403.76,302.35 L404.31,302.49 L404.87,302.63 L405.43,302.76 L405.98,302.89 L406.54,303.01 L407.09,303.13 L407.65,303.25 L408.21,303.36 L408.76,303.48 L409.32,303.59 L409.88,303.69 L410.43,303.80 L410.99,303.90 L411.54,303.99 L412.10,304.09 L412.66,304.18 L413.21,304.27 L413.77,304.36 L414.33,304.45 L414.88,304.53 L415.44,304.62 L415.99,304.70 L416.55,304.77 L417.11,304.85 L417.66,304.92 L418.22,305.00 L418.78,305.07 L419.33,305.13 L419.89,305.20 L420.44,305.27 L421.00,305.33 L421.56,305.39 L422.11,305.45 L422.67,305.51 L423.23,305.57 L423.78,305.62 L424.34,305.68 L424.89,305.73 L425.45,305.78 L426.01,305.83 L426.56,305.88 L427.12,305.93 L427.68,305.98 L428.23,306.02 L428.79,306.06 L429.34,306.11 L429.90,306.15 L430.46,306.19 L431.01,306.23 L431.57,306.27 L432.13,306.30 L432.68,306.34 L433.24,306.37 L433.79,306.41 L434.35,306.44 L434.91,306.47 L435.46,306.50 L436.02,306.53 L436.58,306.56 L437.13,306.59 L437.69,306.62 L438.24,306.64 L438.80,306.67 L439.36,306.69 L439.91,306.72 L440.47,306.74 L441.03,306.76 L441.58,306.78 L442.14,306.80 L442.69,306.82 L443.25,306.84 L443.81,306.86 L444.36,306.87 L444.92,306.89 L445.48,306.90 L446.03,306.92 L446.59,306.93 L447.14,306.94 L447.70,306.96 L448.26,306.97 L448.81,306.98 L449.37,306.99 L449.93,307.00 L450.48,307.01 L451.04,307.01 L451.59,307.02 L452.15,307.03 L452.71,307.03 L453.26,307.04 L453.82,307.04 L454.38,307.04 L454.93,307.05 L455.49,307.05 L456.04,307.05 L456.60,307.05" fill="none" stroke="#EB6235" stroke-width="2.9" stroke-linecap="square" stroke-linejoin="round"/>
<g stroke="#8778B3" stroke-width="2.9" stroke-linecap="square" fill="none"><path d="M11.60,313.70 L122.85,313.70"/><path d="M122.85,78.50 L345.35,78.50"/><path d="M345.35,313.70 L456.60,313.70"/></g>
<g stroke="#8e8e8e" stroke-width="0.9" fill="none"><path d="M10.3,313.5 L458.2,313.5"/><path d="M234.4,32.2 L234.4,313.5"/><path d="M11.60,313.5 L11.60,308.20"/><path d="M122.85,313.5 L122.85,308.20"/><path d="M234.10,313.5 L234.10,308.20"/><path d="M345.35,313.5 L345.35,308.20"/><path d="M456.60,313.5 L456.60,308.20"/><path d="M234.4,301.75 L237.50,301.75"/><path d="M234.4,290.00 L237.50,290.00"/><path d="M234.4,278.25 L237.50,278.25"/><path d="M234.4,266.50 L239.70,266.50"/><path d="M234.4,254.75 L237.50,254.75"/><path d="M234.4,243.00 L237.50,243.00"/><path d="M234.4,231.25 L237.50,231.25"/><path d="M234.4,219.50 L239.70,219.50"/><path d="M234.4,207.75 L237.50,207.75"/><path d="M234.4,196.00 L237.50,196.00"/><path d="M234.4,184.25 L237.50,184.25"/><path d="M234.4,172.50 L239.70,172.50"/><path d="M234.4,160.75 L237.50,160.75"/><path d="M234.4,149.00 L237.50,149.00"/><path d="M234.4,137.25 L237.50,137.25"/><path d="M234.4,125.50 L239.70,125.50"/><path d="M234.4,113.75 L237.50,113.75"/><path d="M234.4,102.00 L237.50,102.00"/><path d="M234.4,90.25 L237.50,90.25"/><path d="M234.4,78.50 L239.70,78.50"/><path d="M234.4,66.75 L237.50,66.75"/><path d="M234.4,55.00 L237.50,55.00"/><path d="M234.4,43.25 L237.50,43.25"/></g>
<g stroke="#a8a8a8" stroke-width="1.9" fill="none"><path d="M460.9,235.2 C477.4,233.5 497.8,228.8 510,228.8 L517.1,228.8"/><path d="M460.9,283.0 C485.6,280.0 494.1,252.8 509.9,252.8 L517.1,252.8"/><path d="M460.9,307.5 C486.0,301.7 494.1,277.2 511.9,277.2 L517.1,277.2"/><path d="M460.9,313.3 C484.6,311.3 486.8,301.2 512,301.2 L516.9,301.2"/></g>
<g style="text-rendering:geometricPrecision"><text transform="translate(228.7,82.50) scale(1,1.04)" text-anchor="end" font-size="16" fill="#000" font-family="Liberation Sans, sans-serif">1.0</text><text transform="translate(228.7,129.50) scale(1,1.04)" text-anchor="end" font-size="16" fill="#000" font-family="Liberation Sans, sans-serif">0.8</text><text transform="translate(228.7,176.50) scale(1,1.04)" text-anchor="end" font-size="16" fill="#000" font-family="Liberation Sans, sans-serif">0.6</text><text transform="translate(228.7,223.50) scale(1,1.04)" text-anchor="end" font-size="16" fill="#000" font-family="Liberation Sans, sans-serif">0.4</text><text transform="translate(228.7,270.50) scale(1,1.04)" text-anchor="end" font-size="16" fill="#000" font-family="Liberation Sans, sans-serif">0.2</text><text x="233.8" y="345.4" text-anchor="middle" font-size="16" font-family="Liberation Sans, sans-serif">0</text><rect x="1.2" y="341.5" width="7.3" height="1.2" fill="#000"/><text transform="translate(16.4,345.8) scale(1.1,1)" text-anchor="middle" font-size="16" font-style="italic" font-family="Liberation Sans, sans-serif">π</text><text transform="translate(457.4,345.5) scale(1.1,1)" text-anchor="middle" font-size="16" font-style="italic" font-family="Liberation Sans, sans-serif">π</text><text transform="translate(345.4,329.7) scale(1.1,1)" text-anchor="middle" font-size="16" font-style="italic" font-family="Liberation Sans, sans-serif">π</text><text x="344.8" y="363.5" text-anchor="middle" font-size="16" font-family="Liberation Sans, sans-serif">2</text><rect x="338" y="340.5" width="13.2" height="1.2" fill="#000"/><text transform="translate(127.6,329.6) scale(1.1,1)" text-anchor="middle" font-size="16" font-style="italic" font-family="Liberation Sans, sans-serif">π</text><text x="126.8" y="363.7" text-anchor="middle" font-size="16" font-family="Liberation Sans, sans-serif">2</text><rect x="120" y="340.3" width="13.3" height="1.2" fill="#000"/><rect x="109.8" y="340.9" width="7.7" height="1.2" fill="#000"/><text x="521.6" y="233.00" font-size="16" font-family="Liberation Sans, sans-serif">r=1/4</text><text x="521.6" y="257.00" font-size="16" font-family="Liberation Sans, sans-serif">r=1/2</text><text x="521.6" y="281.40" font-size="16" font-family="Liberation Sans, sans-serif">r=3/4</text><text x="519.4" y="305.40" font-size="16" font-family="Liberation Sans, sans-serif">r=1</text><rect x="545.3" y="300.7" width="7.2" height="1.2" fill="#000"/><text x="479.6" y="317.8" font-size="15" fill="#4d4d4d" font-family="Liberation Sans, sans-serif">s</text><text x="215.8" y="14.7" font-size="15.6" font-style="italic" fill="#666" font-family="Liberation Sans, sans-serif">g</text><text x="225.0" y="18.6" font-size="14" font-style="italic" fill="#666" font-family="Liberation Sans, sans-serif">r</text><text x="234.1" y="14.7" font-size="15" fill="#666" font-family="Liberation Sans, sans-serif">(</text><text transform="translate(238.9,14.5) scale(1.15,1)" font-size="14" font-style="italic" fill="#666" font-family="Liberation Sans, sans-serif">θ</text><text x="248.7" y="14.7" font-size="15" fill="#666" font-family="Liberation Sans, sans-serif">)</text></g>
</svg>
</body></html>
